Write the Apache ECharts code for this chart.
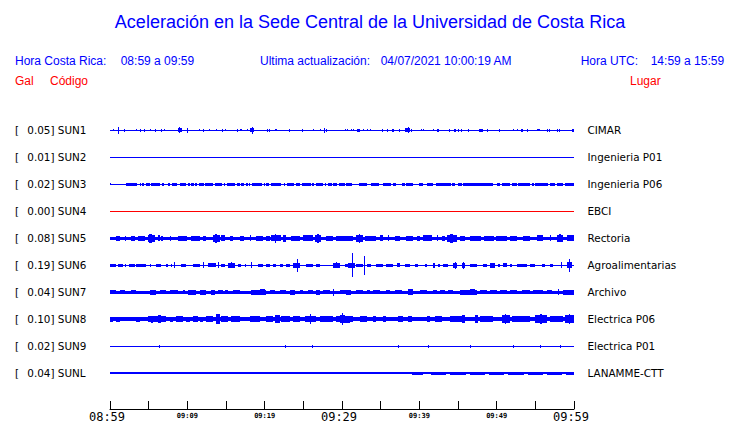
<!DOCTYPE html>
<html><head><meta charset="utf-8">
<script src="https://cdn.jsdelivr.net/npm/echarts@6/dist/echarts.min.js"></script>
<style>html,body{margin:0;padding:0;background:#fff}#c{width:740px;height:423px}</style>
</head><body><div id="c"></div>
<script>
// ---- data ----
const stations = ['SUN1','SUN2','SUN3','SUN4','SUN5','SUN6','SUN7','SUN8','SUN9','SUNL'];
const peakGal  = ['0.05','0.01','0.02','0.00','0.08','0.19','0.04','0.10','0.02','0.04'];
const places   = ['CIMAR','Ingenieria P01','Ingenieria P06','EBCI','Rectoria','Agroalimentarias','Archivo','Electrica P06','Electrica P01','LANAMME-CTT'];
const tickLabels = ['08:59','09:04','09:09','09:14','09:19','09:24','09:29','09:34','09:39','09:44','09:49','09:54','09:59'];
const bigLabelMinutes = [0,30,60];
const smallLabelMinutes = [10,20,40,50];
// background noise level per trace (relative amplitude)
const noiseLevel = [0.5,0.5,0.5,0.5,1.7,0.7,1.5,1.7,0.5,0.6];
// bursts per trace: [start minute, end minute, relative amplitude]
const sun1 = [[0.45,0.58,1],[0.97,1.1,3.3],[1.75,1.75,1.5],[3.3,3.3,1],[3.86,3.86,1.5],[4.38,4.38,1.5],[5.11,5.11,1],[5.8,5.8,1.5],[6.58,6.58,1.5],[6.96,6.96,1],[8.74,9.35,2],[8.87,8.87,3],[9.94,9.94,2.5],[11.46,11.46,1],[12.01,12.01,1.5],[12.84,12.84,1],[13.7,13.7,1],[14.47,14.47,1.5],[14.91,14.91,1],[16.38,16.38,1.5],[16.85,17.02,1],[17.67,17.67,1],[18.15,18.58,2],[18.36,18.36,3.3],[20.3,20.3,1.5],[20.56,20.56,1.5],[21.39,21.64,1],[23.15,23.15,1.5],[24.83,24.83,1.5],[26.3,26.3,1],[27.16,27.16,1],[27.64,27.64,2.5],[27.9,27.9,1.5],[30.45,30.45,1],[30.71,30.71,1],[31.22,31.22,1],[31.43,31.43,1],[31.95,32.39,1.5],[32.73,32.73,1],[33.17,33.17,1],[33.59,33.59,1],[35.11,35.11,1.5],[35.76,35.76,1.5],[36.48,36.74,1.5],[37.39,37.39,1.5],[38.12,38.77,2],[38.47,38.47,3],[38.94,38.94,1.5],[40.28,40.28,1],[40.49,40.49,1],[41.79,41.79,1],[42.23,42.23,1.5],[42.43,42.43,1.5],[43.86,43.86,1.5],[44.47,44.72,1.5],[45.02,45.02,1.5],[45.33,45.33,1.5],[46.32,46.32,1.5],[47.7,48.18,1.5],[48.7,48.7,1.5],[50.33,50.33,1.5],[52.14,52.14,1],[52.66,52.66,1],[53.1,53.36,1.5],[53.88,53.88,1.5],[55.17,55.6,1],[56.47,56.47,1.5],[56.8,56.8,1.5],[57.76,57.76,1.5],[58.1,58.1,1.5],[59.78,60,1.5]];
const sun2 = [];
const sun3 = [[0,0,1],[2.1,3.47,1.7],[3.82,3.99,1.7],[4.17,4.34,1.7],[4.6,5.11,1.7],[5.33,5.89,1.7],[5.98,6.41,1.7],[6.76,7.02,1.7],[7.48,7.79,1.7],[8.05,8.65,1.7],[9.0,9.77,1.7],[10.12,10.29,1.7],[10.51,10.81,1.7],[11.03,11.24,1.7],[11.46,12.1,1.7],[12.23,13.31,1.7],[13.53,14.52,1.7],[14.69,14.86,1.7],[15.17,16.21,1.7],[16.47,16.76,1.7],[16.98,17.28,1.7],[17.54,17.8,1.7],[17.93,18.15,1.7],[18.36,19.7,1.7],[19.87,20.0,1.7],[20.22,20.52,1.7],[20.78,22.16,1.7],[22.46,22.63,1.7],[22.89,23.84,1.7],[24.1,24.53,1.7],[24.79,25.95,1.7],[26.12,26.43,1.7],[26.6,27.55,1.7],[27.81,27.99,1.7],[28.25,28.67,1.7],[28.84,29.36,1.7],[29.62,30.4,1.7],[30.58,31.35,1.7],[32.2,33.17,1.7],[33.81,34.8,1.7],[35.32,36.4,1.7],[36.61,36.96,1.7],[37.7,38.12,1.7],[38.34,39.2,1.7],[39.97,40.49,1.7],[40.93,41.79,1.7],[42.14,44.04,1.7],[44.17,44.6,1.7],[45.02,45.46,1.7],[45.67,49.55,1.7],[50.0,50.42,1.7],[50.64,51.72,1.7],[51.94,52.58,1.7],[52.79,54.3,1.7],[54.52,54.82,1.7],[54.95,56.67,1.7],[56.89,57.54,1.7],[57.76,58.62,1.7],[58.84,60,1.7]];
const sun4 = [];
const sun5 = [[0.8,1.23,2.5],[1.88,2.1,2.3],[2.74,3.17,2.5],[3.6,4.47,2.5],[4.9,5.76,3.3],[5.1,5.4,4.3],[6.19,6.41,3],[6.63,6.84,2.5],[7.7,7.92,2.5],[8.78,9.94,2.5],[10.51,11.59,2.5],[12.01,12.45,2.5],[13.31,14.17,3.3],[13.6,13.9,4.3],[14.4,14.82,3],[15.47,15.9,2.5],[16.76,17.28,2.5],[18.06,18.06,3],[18.93,19.78,2.5],[20.22,20.65,2.5],[20.87,22.16,3],[21.3,21.3,4.5],[22.37,22.81,3.3],[23.46,24.53,2.5],[24.96,26.25,3],[26.47,27.34,3.3],[26.8,27.0,4.3],[27.99,28.84,2.5],[29.28,31.0,2.5],[30.78,31.43,2.5],[31.87,32.73,3.3],[32.2,32.2,4.7],[32.95,34.46,2.5],[34.89,35.32,3],[35.96,35.96,3],[36.83,37.48,2.5],[38.34,39.2,2.5],[39.64,40.06,2.5],[40.49,41.58,3],[42.23,42.23,3],[42.87,43.3,2.5],[43.52,44.82,3.3],[44.0,44.4,4.7],[45.24,45.89,2.5],[46.54,48.0,2.7],[48.3,49.6,2.5],[49.9,51.29,2.7],[51.72,52.58,2.5],[53.44,54.3,2.5],[55.17,56.03,3],[56.89,56.89,3],[57.76,58.62,3.3],[58.1,58.3,3.8],[59.05,60,3]];
const sun6 = [[0,0.8,1.7],[1.01,1.66,1.7],[1.88,2.1,1.7],[2.52,3.17,1.7],[3.39,4.69,1.7],[5.11,5.33,1.7],[5.98,6.63,1.7],[7.27,7.48,1.7],[7.92,7.92,1.7],[8.22,8.22,3],[9.22,9.86,1.7],[10.72,11.59,1.7],[12.01,12.01,3],[12.66,13.75,2],[13.96,13.96,3],[14.4,14.82,1.7],[15.25,16.12,2.3],[15.6,15.7,3],[16.55,16.98,1.7],[17.41,17.63,1.7],[18.28,18.28,3],[19.13,19.78,1.7],[20.22,20.65,1.7],[21.08,21.51,1.7],[21.94,22.37,1.7],[22.81,23.24,1.5],[23.66,24.53,2.3],[24.18,24.18,6.3],[25.4,26.25,1.7],[26.69,27.12,1.7],[28.84,29.71,2.3],[29.2,29.3,3],[30.36,31.0,1.7],[30.78,31.65,2.3],[31.3,31.3,11.8],[31.87,32.73,1.7],[32.85,32.85,9.3],[33.17,33.81,1.7],[34.46,35.32,1.7],[35.75,36.61,1.5],[37.05,37.48,2],[38.12,38.77,1.7],[39.42,39.85,1.7],[40.71,40.93,1.7],[41.79,42.01,2.5],[42.43,42.65,1.7],[43.08,43.73,1.7],[44.38,44.82,2.5],[44.6,44.6,3.3],[45.46,45.89,2.5],[45.6,45.6,3.3],[46.54,47.4,1.7],[48.26,48.7,1.7],[49.13,49.78,2.3],[50.2,50.42,1.7],[50.85,51.29,2],[51.72,51.94,1.7],[52.58,53.88,1.5],[54.3,54.95,1.7],[55.82,56.25,1.7],[56.89,57.32,1.7],[58.28,58.28,3],[59.05,59.7,3],[59.35,59.35,6.3]];
const sun7 = [[0,0.8,2.3],[1.23,1.88,2.3],[2.74,3.39,2.3],[5.11,5.98,2.5],[6.41,7.27,2.3],[7.7,8.78,2.3],[9.42,9.64,2.3],[10.07,11.16,2.5],[11.59,12.45,2.5],[13.1,13.53,2.5],[13.96,14.6,2.3],[14.82,15.25,2.3],[15.9,16.76,2.3],[18.28,20.22,2.5],[19.35,20.0,3.3],[20.65,21.3,2.3],[21.94,22.81,2.3],[23.24,23.88,2.5],[24.53,24.96,2.3],[25.6,26.25,2.3],[26.69,27.12,2.5],[27.55,28.41,2.3],[28.84,28.84,3.5],[29.71,31.0,2.3],[30.58,31.22,2.5],[31.87,32.73,2.3],[33.17,33.59,2.3],[34.02,34.89,2.3],[35.75,36.18,2.3],[36.83,37.7,2.3],[38.55,39.2,3],[40.06,40.93,2.3],[41.79,42.23,2.3],[42.65,43.3,2.3],[43.73,44.38,2.3],[45.24,47.4,2.5],[46.54,47.18,3.3],[47.83,48.7,2.3],[49.13,49.99,2.3],[50.42,51.29,2.3],[51.72,52.58,2.3],[53.23,54.3,2.3],[54.73,56.03,2.3],[56.47,57.11,2.3],[57.97,57.97,3],[58.62,60,2.5]];
const sun8 = [[0,0.36,2.5],[0.8,1.23,2.5],[2.1,2.3,2.3],[2.74,2.95,2.3],[3.39,3.82,2.5],[4.9,7.27,2.7],[6.19,6.63,4.2],[5.3,5.5,3.5],[7.7,8.13,2.5],[8.57,9.42,2.7],[9.86,10.29,2.5],[10.72,11.37,3],[11.59,12.01,2.5],[12.45,13.31,2.7],[13.75,14.17,4.8],[14.4,15.25,3.3],[15.69,16.76,2.7],[18.06,19.35,3],[20.22,21.08,3],[21.3,21.94,3.7],[22.16,23.24,3],[23.66,24.53,2.7],[25.18,26.69,3.3],[25.83,25.83,5],[27.12,28.84,3],[29.28,30.14,3],[29.7,30.36,4.2],[30.0,30.0,6],[30.36,31.0,3.5],[31.0,31.43,3],[32.3,33.17,3.3],[34.02,34.46,3],[35.32,35.75,3],[37.26,37.9,3.3],[38.55,38.99,3],[40.93,41.36,3],[42.0,42.87,3.3],[43.95,45.67,3],[45.46,45.89,4.2],[47.18,47.61,4],[47.83,49.55,3.3],[50.64,51.72,3.7],[51.1,51.2,5],[51.94,54.3,3.3],[54.95,56.47,3.7],[55.6,55.8,5],[56.89,58.62,3.3],[58.84,60,3.7],[59.3,59.4,4.8]];
const sun9 = [[6.4,6.4,1.5],[22.6,22.6,1.5],[26.1,26.1,1.5],[37.2,37.2,1.5],[41.1,41.1,1.5],[46.5,46.5,1.5],[52.1,52.1,1.5],[55.6,55.6,1.5],[58.2,58.2,1.5]];
const sunl = [[0,0.5,1.3],[2,2.6,1.2],[4.5,5.5,1.3],[8,8.6,1.2],[10.5,11.5,1.3],[13,14,1.3],[16,16.5,1.2],[18.5,19.5,1.3],[21,22,1.3],[24,24.6,1.2],[26,27,1.3],[28.5,29.5,1.3],[31,32.5,1.3],[34,35,1.3],[36.5,38,1.3],[39,40.5,1.5],[41.5,43.5,1.5],[44,46,1.5],[46.5,48.5,1.5],[49,51,1.5],[51.5,53.5,1.5],[54,56,1.5],[56.5,58.5,1.5],[59,60,1.5]];
const traces = [sun1,sun2,sun3,sun4,sun5,sun6,sun7,sun8,sun9,sunl];
const traceColors = ['#0000ff','#0000ff','#0000ff','#ff0000','#0000ff','#0000ff','#0000ff','#0000ff','#0000ff','#0000ff'];

// ---- chart ----
const AMP_PER_TRACE = 27;
const chart = echarts.init(document.getElementById('c'), null, {renderer: 'svg'});

function traceSeries(k) {
  const data = [[0, 60, noiseLevel[k], k]].concat(traces[k].map(b => [b[0], b[1], b[2], k]));
  const color = traceColors[k];
  return {
    type: 'custom', silent: true, animation: false, clip: false,
    xAxisIndex: 0, yAxisIndex: 0,
    data: data,
    encode: {x: [0, 1], y: 3},
    renderItem: function (params, api) {
      const t0 = api.value(0), t1 = api.value(1), a = api.value(2), i = api.value(3);
      const p0 = api.coord([t0, i - a / AMP_PER_TRACE]);
      const p1 = api.coord([t1, i + a / AMP_PER_TRACE]);
      const x0 = Math.round(p0[0]);
      let x1 = Math.round(p1[0]);
      if (x1 <= x0) x1 = x0 + 1;
      const ya = Math.round(Math.min(p0[1], p1[1]));
      const yb = Math.round(Math.max(p0[1], p1[1]));
      return {type: 'rect', shape: {x: x0, y: ya, width: x1 - x0, height: Math.max(1, yb - ya)}, style: {fill: color}};
    }
  };
}

function idxOf(v) {
  const k = Math.round(v);
  if (Math.abs(v - k) > 1e-6 || k < 0 || k > 9) return -1;
  return k;
}

const FONT_UI = '"Liberation Sans", Arial, sans-serif';
const FONT_LBL = '"DejaVu Sans", sans-serif';
function txt(x, y, s, color) {
  return {type: 'text', x: x, y: y, silent: true,
    style: {text: s, fill: color, font: '12px ' + FONT_UI, textVerticalAlign: 'middle', verticalAlign: 'middle'}};
}

const option = {
  backgroundColor: '#ffffff',
  animation: false,
  grid: {left: 110, width: 464, top: 103.5, height: 306},
  xAxis: {
    type: 'value', min: 0, max: 60, interval: 5,
    axisLine: {show: true, onZero: false, lineStyle: {color: '#000', width: 1}},
    axisTick: {show: true, inside: true, length: 8, lineStyle: {color: '#000'}},
    splitLine: {show: false},
    axisLabel: {
      margin: 2, color: '#000',
      formatter: function (v) {
        const m = Math.round(v);
        const lab = tickLabels[Math.round(m / 5)];
        if (bigLabelMinutes.indexOf(m) >= 0) return '{big|' + lab + '}';
        if (smallLabelMinutes.indexOf(m) >= 0) return '{sm|' + lab + '}';
        return '';
      },
      rich: {
        big: {fontFamily: '"DejaVu Sans Mono", monospace', fontSize: 12, color: '#000', padding: [0, 0, 0, -6]},
        sm: {fontFamily: '"DejaVu Sans Mono", monospace', fontSize: 7, fontWeight: 'bold', color: '#000', padding: [1, 0, 0, 0]}
      }
    }
  },
  yAxis: [{
    type: 'value', min: -1, max: 31 / 3, interval: 1, inverse: true,
    axisLine: {show: false}, axisTick: {show: false}, splitLine: {show: false},
    axisLabel: {
      align: 'left', margin: 95, color: '#000',
      formatter: function (v) {
        const k = idxOf(v);
        if (k < 0) return '';
        return '{b|[}{v|' + peakGal[k] + ']} {s|' + stations[k] + '}';
      },
      rich: {
        b: {fontFamily: FONT_LBL, fontSize: 10.4, color: '#000', width: 12.3},
        v: {fontFamily: FONT_LBL, fontSize: 10.4, color: '#000'},
        s: {fontFamily: FONT_LBL, fontSize: 10.4, color: '#000'}
      }
    }
  }, {
    type: 'value', position: 'right', min: -1, max: 31 / 3, interval: 1, inverse: true,
    axisLine: {show: false}, axisTick: {show: false}, splitLine: {show: false},
    axisLabel: {
      align: 'left', margin: 13.5, color: '#000', fontFamily: FONT_LBL, fontSize: 10.4,
      formatter: function (v) {
        const k = idxOf(v);
        return k < 0 ? '' : places[k];
      }
    }
  }],
  graphic: [
    {type: 'text', x: 370, y: 22, silent: true,
     style: {text: 'Aceleración en la Sede Central de la Universidad de Costa Rica', fill: '#0000ff',
             font: '18px ' + FONT_UI, textAlign: 'center', align: 'center', textVerticalAlign: 'middle', verticalAlign: 'middle'}},
    txt(15, 61, 'Hora Costa Rica:', '#0000ff'),
    txt(120.7, 61, '08:59 a 09:59', '#0000ff'),
    txt(260, 61, 'Ultima actualización:', '#0000ff'),
    txt(380.7, 61, '04/07/2021 10:00:19 AM', '#0000ff'),
    txt(580.7, 61, 'Hora UTC:', '#0000ff'),
    txt(650.7, 61, '14:59 a 15:59', '#0000ff'),
    txt(15, 80.5, 'Gal', '#ff0000'),
    txt(50, 80.5, 'Código', '#ff0000'),
    txt(630, 80.5, 'Lugar', '#ff0000')
  ],
  series: stations.map((s, k) => traceSeries(k))
};
chart.setOption(option);
</script>
</body></html>
